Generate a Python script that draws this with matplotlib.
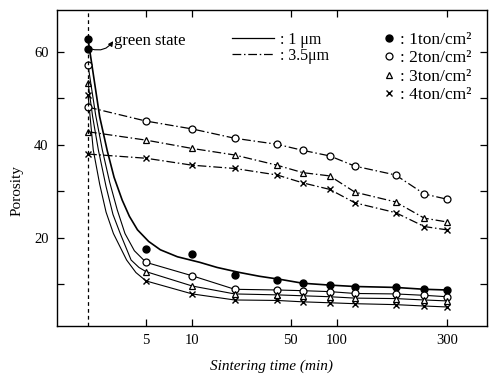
import numpy as np
import matplotlib
matplotlib.use("Agg")
import matplotlib.pyplot as plt
from matplotlib.lines import Line2D

plt.rcParams['font.family'] = ['Liberation Serif', 'DejaVu Serif']

# ---------------- data ----------------
GREEN_T = 2.1                      # position used for the green (unsintered) state
TIMES = [5, 10, 20, 40, 60, 90, 120, 180, 240, 300]   # sintering time (min)

# green-state porosity
green_1um = {'1': 62.7, '2': 57.1, '3': 53.3, '4': 50.7}
green_35um = {'1': 60.5, '2': 48.1, '3': 42.8, '4': 38.0}

# 1 um powder, measured points
p1_1 = [17.6, 16.6, 12.0, 10.9, 10.2, 9.8, 9.5, 9.3, 8.9, 8.75]
p1_2 = [14.7, 11.8, 8.9, 8.75, 8.6, 8.4, 8.0, 7.9, 7.6, 7.3]
p1_3 = [12.7, 9.6, 7.9, 7.7, 7.5, 7.3, 7.0, 6.9, 6.6, 6.4]
p1_4 = [10.7, 7.9, 6.6, 6.5, 6.2, 6.0, 5.8, 5.6, 5.3, 5.1]

# 3.5 um powder, measured points
p35_2 = [45.1, 43.4, 41.4, 40.1, 38.8, 37.6, 35.4, 33.5, 29.4, 28.3]
p35_3 = [41.0, 39.2, 37.8, 35.6, 34.0, 33.3, 29.8, 27.7, 24.2, 23.4]
p35_4 = [37.1, 35.6, 34.9, 33.5, 31.8, 30.4, 27.5, 25.4, 22.4, 21.7]

# 1 um fitted curves
c1_1_t = [2.1, 2.5, 2.8, 3.1, 3.5, 3.9, 4.4, 5.2, 6.2, 8.0, 11.3, 15.0, 21.8, 30.0, 42.8, 60, 90, 120, 180, 240, 300]
c1_1_v = [62.7, 46.0, 38.7, 33.0, 28.1, 24.6, 21.7, 19.2, 17.4, 15.9, 14.7, 13.6, 12.5, 11.7, 11.0, 10.2, 9.8, 9.5, 9.3, 8.9, 8.75]
c1_2_t = [2.1, 2.35, 2.6, 2.9, 3.25, 3.65, 4.2] + TIMES
c1_2_v = [57.1, 46.5, 38.9, 32.0, 26.0, 20.9, 17.2] + p1_2
c1_3_t = [2.1, 2.25, 2.45, 2.75, 3.05, 3.4, 4.0, 4.5] + TIMES
c1_3_v = [53.3, 46.0, 38.9, 31.0, 25.0, 20.9, 15.2, 13.6] + p1_3
c1_4_t = [2.1, 2.18, 2.27, 2.5, 2.75, 3.07, 3.74, 4.3] + TIMES
c1_4_v = [50.7, 45.0, 38.9, 31.5, 25.5, 20.9, 15.2, 12.5] + p1_4

X_TICKS = [5, 10, 50, 100, 300]
X_TICKLABELS = ['5', '10', '50', '100', '300']
Y_TICKS = [10, 20, 30, 40, 50, 60]
Y_TICKLABELS = ['', '20', '', '40', '', '60']

# ---------------- non-uniform printed time axis ----------------
_la = np.log10(np.array(X_TICKS, float))
_u = np.array([146.0, 192.3, 290.7, 336.7, 446.7])


def _extrap(x, xp, fp):
    x = np.asarray(x, float)
    y = np.interp(x, xp, fp)
    s0 = (fp[1] - fp[0]) / (xp[1] - xp[0])
    s1 = (fp[-1] - fp[-2]) / (xp[-1] - xp[-2])
    y = np.where(x < xp[0], fp[0] + (x - xp[0]) * s0, y)
    y = np.where(x > xp[-1], fp[-1] + (x - xp[-1]) * s1, y)
    return y


def fwd(t):
    t = np.asarray(t, float)
    return _extrap(np.log10(np.clip(t, 1e-6, None)), _la, _u)


def inv(u):
    return 10 ** _extrap(u, _u, _la)


# ---------------- figure ----------------
fig = plt.figure(figsize=(4.9, 3.81), dpi=100)
ax = fig.add_axes([57 / 490, 1 - 326 / 381, 430 / 490, 316 / 381])
ax.set_xscale('function', functions=(fwd, inv))
ax.set_xlim(float(inv(57.0)), float(inv(487.0)))
ax.set_ylim(1, 69)

K = 'black'
dashdot = (0, (7, 2.2, 1.2, 2.2))

# 1 um curves (solid)
ax.plot(c1_1_t, c1_1_v, color=K, lw=1.2)
ax.plot(c1_2_t, c1_2_v, color=K, lw=0.8)
ax.plot(c1_3_t, c1_3_v, color=K, lw=0.8)
ax.plot(c1_4_t, c1_4_v, color=K, lw=0.8)

# 3.5 um curves (dash-dot)
for g, vals in ((green_35um['2'], p35_2), (green_35um['3'], p35_3), (green_35um['4'], p35_4)):
    ax.plot([GREEN_T] + TIMES, [g] + vals, color=K, lw=0.9, linestyle=dashdot)

# markers
ms = 5
sty = {
    '1': dict(marker='o', mfc=K, mec=K, ms=ms),
    '2': dict(marker='o', mfc='white', mec=K, ms=ms, mew=0.9),
    '3': dict(marker='^', mfc='white', mec=K, ms=ms, mew=0.9),
    '4': dict(marker='x', mec=K, ms=ms - 0.5, mew=1.0),
}
for key, vals in (('1', p1_1), ('2', p1_2), ('3', p1_3), ('4', p1_4)):
    ax.plot(TIMES, vals, linestyle='none', **sty[key])
for key, vals in (('2', p35_2), ('3', p35_3), ('4', p35_4)):
    ax.plot(TIMES, vals, linestyle='none', **sty[key])
for key in ('1', '2', '3', '4'):
    ax.plot([GREEN_T], [green_1um[key]], linestyle='none', **sty[key])
    ax.plot([GREEN_T], [green_35um[key]], linestyle='none', **sty[key])

# green-state line and label
ax.axvline(GREEN_T, color=K, lw=0.9, linestyle=(0, (3, 2.5)))
ax.text(3.12, 62.3, 'green state', fontsize=12, va='center', ha='left')
ax.annotate('', xy=(3.06, 62.3), xytext=(GREEN_T * 1.05, 60.6),
            arrowprops=dict(arrowstyle='-|>', color=K, lw=0.8,
                            connectionstyle='arc3,rad=0.35', shrinkA=0, shrinkB=0,
                            mutation_scale=7))

# axes styling
ax.set_xticks(X_TICKS)
ax.set_xticklabels(X_TICKLABELS)
ax.xaxis.set_minor_locator(matplotlib.ticker.NullLocator())
ax.set_yticks(Y_TICKS)
ax.set_yticklabels(Y_TICKLABELS)
ax.tick_params(direction='in', top=True, right=True, length=5, width=0.9,
               labelsize=10.5, colors=K, pad=6)
for s in ax.spines.values():
    s.set_linewidth(1.0)
    s.set_color(K)

ax.set_ylabel('Porosity', fontsize=11)
ax.yaxis.set_label_coords(-0.078, 0.43)
ax.set_xlabel('Sintering time (min)', fontsize=11, labelpad=9, style='italic')

# legends
h_lines = [Line2D([], [], color=K, lw=0.9),
           Line2D([], [], color=K, lw=0.9, linestyle=dashdot)]
leg1 = ax.legend(h_lines, [': 1 \u03bcm', ': 3.5\u03bcm'], loc='upper left',
                 bbox_to_anchor=((232 - 57) / 430, (326 - 32) / 316),
                 frameon=False, fontsize=11.5, handlelength=2.6, handletextpad=0.4,
                 labelspacing=0.0, borderpad=0, borderaxespad=0)
ax.add_artist(leg1)
h_mk = [Line2D([], [], linestyle='none', **sty[k]) for k in ('1', '2', '3', '4')]
ax.legend(h_mk, [': 1ton/cm\u00b2', ': 2ton/cm\u00b2', ': 3ton/cm\u00b2', ': 4ton/cm\u00b2'],
          loc='upper left', bbox_to_anchor=((383 - 57) / 430, (326 - 32) / 316),
          frameon=False, fontsize=12.5, handlelength=0.7, handletextpad=0.3,
          labelspacing=0.12, borderpad=0, borderaxespad=0)

fig.savefig('out.png', dpi=100)
